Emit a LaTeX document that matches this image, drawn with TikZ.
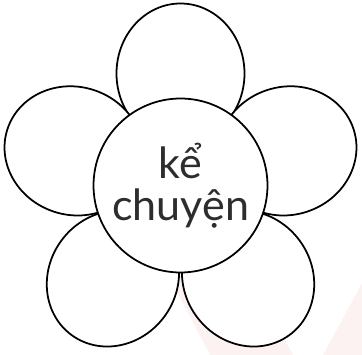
\documentclass[tikz,border=0pt]{standalone}
\usepackage{fontspec}
\setsansfont{Lato}
\definecolor{hongnhat}{RGB}{253,242,242}
\definecolor{chu}{RGB}{45,45,45}
\tikzset{
	canh/.style={draw=black, line width=1pt, fill=white},
	nhuy/.style={circle, draw=black, line width=1pt, fill=white, minimum size=3.48cm, inner sep=0pt,
		align=center, text=chu, font=\sffamily\fontsize{24.5}{26}\selectfont}
}
\begin{document}
\begin{tikzpicture}[x=0.02cm, y=0.02cm]
			\useasboundingbox (0,0) rectangle (362,355);
			\fill[hongnhat] (150,115) -- (210,0) -- (293,0) -- (233,115) -- cycle;
			\fill[hongnhat] (323,0) -- (362,72) -- (362,0) -- cycle;
			\foreach \goc/\xa in {90/112,162/112,234/115,306/115,18/112}
				\draw[canh, shift={(180.5,169.5)}, rotate=\goc] (\xa,0) ellipse [x radius=70, y radius=64];
			\node[nhuy] (tam) at (180.5,169.5) {kể\\[-2pt]chuyện};
		\end{tikzpicture}
\end{document}
